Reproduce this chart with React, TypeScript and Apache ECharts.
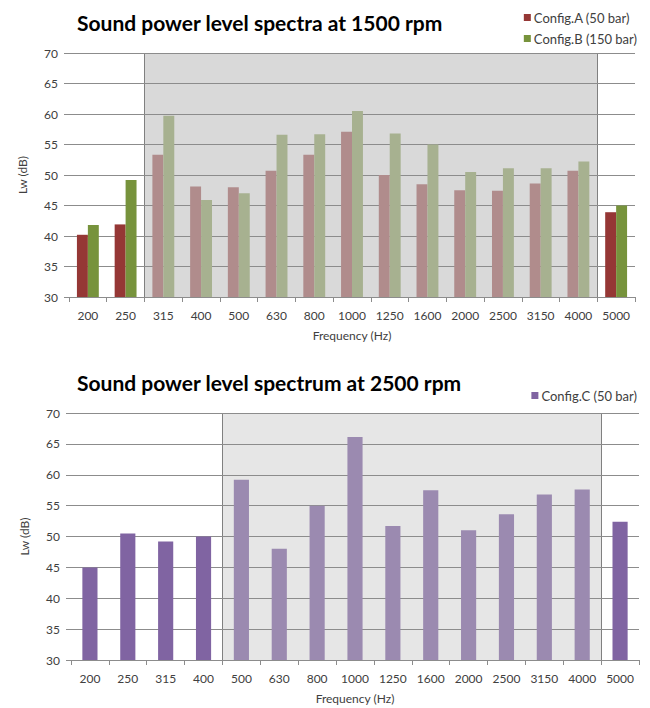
import React, { useEffect, useRef } from "react";
import * as echarts from "echarts";

// ---------- data ----------
const topCategories = ["200", "250", "315", "400", "500", "630", "800", "1000", "1250", "1600", "2000", "2500", "3150", "4000", "5000"];
const configA = [40.2, 41.9, 53.3, 48.1, 48.0, 50.7, 53.3, 57.1, 50.0, 48.5, 47.5, 47.4, 48.6, 50.7, 43.9];
const configB = [41.8, 49.2, 59.7, 45.9, 47.0, 56.6, 56.7, 60.5, 56.8, 55.0, 50.5, 51.1, 51.1, 52.2, 45.0];
const topShade = ["315", "4000"];

const bottomCategories = ["200", "250", "315", "400", "500", "630", "800", "1000", "1250", "1600", "2000", "2500", "3150", "4000", "5000"];
const configC = [45.0, 50.5, 49.2, 50.0, 59.2, 48.0, 55.0, 66.1, 51.7, 57.5, 51.0, 53.6, 56.8, 57.6, 52.4];
const bottomShade = ["500", "4000"];

const yTicks = [30, 70, 5]; // min, max, interval

const titleTop = "Sound power level spectra at 1500 rpm";
const titleBottom = "Sound power level spectrum at 2500 rpm";
const nameA = "Config.A (50 bar)";
const nameB = "Config.B (150 bar)";
const nameC = "Config.C (50 bar)";
const xName = "Frequency (Hz)";
const yName = "Lw (dB)";

const FONT = "Lato";

function buildItems(values: number[], cats: string[], shade: string[], color: string, faded: string) {
  const s = cats.indexOf(shade[0]);
  const e = cats.indexOf(shade[1]);
  return values.map((v, i) => ({
    value: v,
    itemStyle: { color: i >= s && i <= e ? faded : color },
  }));
}

function shadeSeries(idx: number, cats: string[], shade: string[], fill: string) {
  const s = cats.indexOf(shade[0]);
  const e = cats.indexOf(shade[1]);
  return {
    type: "custom",
    xAxisIndex: idx,
    yAxisIndex: idx,
    z: -1,
    silent: true,
    encode: { x: [0, 2], y: [1, 3] },
    data: [[s, yTicks[1], e, yTicks[0]]],
    renderItem: (params: any, api: any) => {
      const p0 = api.coord([api.value(0), api.value(1)]);
      const p1 = api.coord([api.value(2), api.value(3)]);
      const w = api.size([1, 0])[0];
      const x0 = Math.round(p0[0] - w / 2) + 0.5;
      const x1 = Math.round(p1[0] + w / 2) + 0.5;
      const y0 = p0[1];
      const y1 = p1[1];
      return {
        type: "group",
        children: [
          { type: "rect", shape: { x: x0, y: y0, width: x1 - x0, height: y1 - y0 }, style: { fill } },
          { type: "line", shape: { x1: x0, y1: y0, x2: x0, y2: y1 }, style: { stroke: "#808080", lineWidth: 1 } },
          { type: "line", shape: { x1: x1, y1: y0, x2: x1, y2: y1 }, style: { stroke: "#808080", lineWidth: 1 } },
        ],
      };
    },
  };
}

function xAxisCfg(idx: number, cats: string[]) {
  return {
    type: "category",
    gridIndex: idx,
    data: cats,
    name: xName,
    nameLocation: "middle",
    nameGap: 32,
    nameTextStyle: { fontFamily: FONT, fontSize: 12, color: "#404040" },
    axisLine: { show: true, lineStyle: { color: "#8c8c8c", width: 1 } },
    axisTick: { show: true, length: 5, lineStyle: { color: "#8c8c8c" } },
    axisLabel: { fontFamily: FONT, fontSize: 12, color: "#404040", margin: 12, interval: 0 },
    splitLine: { show: false },
  };
}

function yAxisCfg(idx: number) {
  return {
    type: "value",
    gridIndex: idx,
    min: yTicks[0],
    max: yTicks[1],
    interval: yTicks[2],
    name: yName,
    nameLocation: "middle",
    nameGap: 41,
    nameTextStyle: { fontFamily: FONT, fontSize: 12, color: "#404040" },
    axisLine: { show: false },
    axisTick: { show: true, length: 5, lineStyle: { color: "#8c8c8c" } },
    axisLabel: { fontFamily: FONT, fontSize: 12, color: "#404040", margin: 11 },
    splitLine: { show: true, lineStyle: { color: "#8c8c8c", width: 1 } },
  };
}

export default function App() {
  const ref = useRef<HTMLDivElement>(null);
  useEffect(() => {
    document.body.style.margin = "0";
    if (!ref.current) return;
    const chart = echarts.init(ref.current, null, { renderer: "svg" });
    const option: any = {
      animation: false,
      backgroundColor: "#ffffff",
      title: [
        { text: titleTop, left: 72, top: 7, textStyle: { fontFamily: FONT, fontSize: 21, fontWeight: "bold", color: "#000000" } },
        { text: titleBottom, left: 72, top: 367, textStyle: { fontFamily: FONT, fontSize: 21, fontWeight: "bold", color: "#000000" } },
      ],
      legend: [
        {
          data: [nameA, nameB],
          orient: "vertical",
          right: 8,
          top: 6,
          itemGap: 8,
          itemWidth: 7,
          itemHeight: 7,
          icon: "rect",
          textStyle: { fontFamily: FONT, fontSize: 13, color: "#404040", padding: [0, 0, 0, -2] },
        },
        {
          data: [nameC],
          orient: "vertical",
          right: 8,
          top: 384,
          itemWidth: 7,
          itemHeight: 7,
          icon: "rect",
          textStyle: { fontFamily: FONT, fontSize: 13, color: "#404040", padding: [0, 0, 0, -2] },
        },
      ],
      grid: [
        { left: 69, right: 15, top: 53, height: 244 },
        { left: 71, right: 11, top: 413, height: 247 },
      ],
      xAxis: [xAxisCfg(0, topCategories), xAxisCfg(1, bottomCategories)],
      yAxis: [yAxisCfg(0), yAxisCfg(1)],
      series: [
        shadeSeries(0, topCategories, topShade, "#d9d9d9"),
        shadeSeries(1, bottomCategories, bottomShade, "#e6e6e6"),
        {
          name: nameA,
          type: "bar",
          xAxisIndex: 0,
          yAxisIndex: 0,
          barGap: "0%",
          barCategoryGap: "42%",
          itemStyle: { color: "#953735" },
          data: buildItems(configA, topCategories, topShade, "#953735", "#b08c8c"),
        },
        {
          name: nameB,
          type: "bar",
          xAxisIndex: 0,
          yAxisIndex: 0,
          barGap: "0%",
          barCategoryGap: "42%",
          itemStyle: { color: "#77933c" },
          data: buildItems(configB, topCategories, topShade, "#77933c", "#a7b190"),
        },
        {
          name: nameC,
          type: "bar",
          xAxisIndex: 1,
          yAxisIndex: 1,
          barCategoryGap: "60%",
          itemStyle: { color: "#8064a2" },
          data: buildItems(configC, bottomCategories, bottomShade, "#8064a2", "#9b8ab0"),
        },
      ],
    };
    chart.setOption(option);
    return () => chart.dispose();
  }, []);
  return <div ref={ref} style={{ width: 650, height: 708 }} />;
}
